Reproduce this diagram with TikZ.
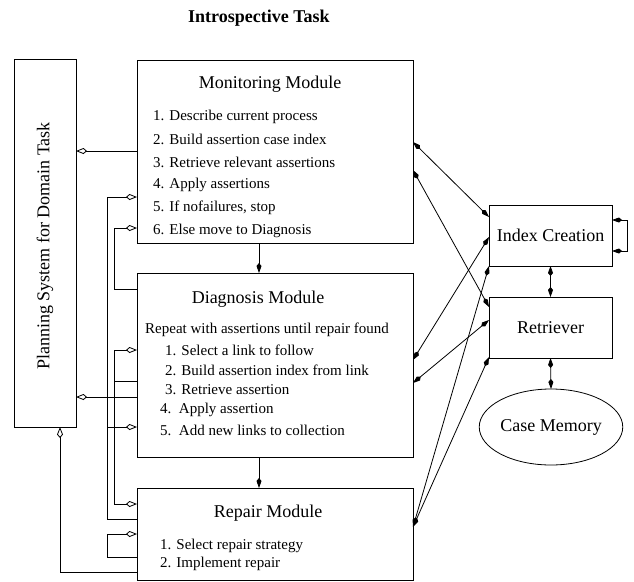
\documentclass[tikz,border=0pt]{standalone}
\usepackage{fontspec}
\setmainfont{Liberation Serif}
\usetikzlibrary{arrows.meta,shapes.geometric,calc}
\begin{document}
\begin{tikzpicture}[x=1pt,y=-1pt,
  box/.style={draw, line width=0.8pt, inner sep=0pt, outer sep=0pt, anchor=north west},
  conn/.style={line width=0.8pt},
  oarr/.style={-{Kite[open,length=11pt,width=6pt,inset=3.5pt]}},
  farr/.style={{Kite[length=10pt,width=5pt,inset=3pt]}-{Kite[length=10pt,width=5pt,inset=3pt]}},
  darr/.style={-{Kite[length=10pt,width=5pt,inset=3pt]}},
  big/.style={font=\fontsize{18}{20}\selectfont},
  item/.style={font=\fontsize{15}{17}\selectfont, anchor=west, inner sep=0pt},
]
\useasboundingbox (0,0) rectangle (634,581);

% title
\node[font=\bfseries\fontsize{18}{20}\selectfont, anchor=base west, inner sep=0pt] (title) at (188,22) {Introspective Task};

% boxes
\node[box, minimum width=62pt, minimum height=368pt] (plan) at (14,59) {};
\node[big, rotate=90] (plantxt) at (45,246) {Planning System for Domain Task};

\node[box, minimum width=276pt, minimum height=183pt] (mon) at (137,60) {};
\node[big] (montitle) at (270,84) {Monitoring Module};
\node[item] (m1) at (153,117) {1. Describe current process};
\node[item] (m2) at (153,139) {2. Build assertion case index};
\node[item] (m3) at (153,162) {3. Retrieve relevant assertions};
\node[item] (m4) at (153,185) {4. Apply assertions};
\node[item] (m5) at (153,208) {5. If nofailures, stop};
\node[item] (m6) at (153,231) {6. Else move to Diagnosis};

\node[box, minimum width=276pt, minimum height=184pt] (diag) at (137,273) {};
\node[big] (diagtitle) at (258,299) {Diagnosis Module};
\node[item] (d0) at (145,330) {Repeat with assertions until repair found};
\node[item] (d1) at (165,350) {1. Select a link to follow};
\node[item] (d2) at (165,370) {2. Build assertion index from link};
\node[item] (d3) at (165,390) {3. Retrieve assertion};
\node[item] (d4) at (160,410) {4.\ \ Apply assertion};
\node[item] (d5) at (160,430) {5.\ \ Add new links to collection};

\node[box, minimum width=276pt, minimum height=92pt] (rep) at (137,488) {};
\node[big] (reptitle) at (268,513) {Repair Module};
\node[item] (r1) at (160,546) {1. Select repair strategy};
\node[item] (r2) at (160,564) {2. Implement repair};

\node[box, big, minimum width=123pt, minimum height=61pt] (idx) at (489,205) {Index Creation};
\node[box, big, minimum width=123pt, minimum height=61pt] (ret) at (489,297) {Retriever};
\node[draw, ellipse, line width=0.8pt, big, minimum width=122pt, minimum height=76pt, inner sep=0pt, outer sep=0pt] (mem) at (551,427) {Case Memory};

% left connectors
\draw[conn,oarr] ($(mon.north west)+(0,91)$) -- ($(plan.north east)+(0,92)$);
\draw[conn,oarr] ($(rep.north west)+(0,31)$) -- ++(-30,0) |- ($(mon.north west)+(0,137)$);
\draw[conn,oarr] ($(diag.north west)+(-30,154)$) -- ($(diag.north west)+(0,154)$);
\draw[conn,oarr] ($(diag.north west)+(0,16)$) -- ++(-23,0) |- ($(mon.north west)+(0,168)$);
\draw[conn,oarr] ($(diag.north west)+(0,108)$) -- ++(-23,0) |- ($(diag.north west)+(0,77)$);
\draw[conn,oarr] ($(diag.north west)+(-23,108)$) |- ($(rep.north west)+(0,16)$);
\draw[conn,oarr] ($(diag.north west)+(0,124)$) -- ($(plan.north east)+(0,338)$);
\draw[conn,oarr] ($(rep.north west)+(0,69)$) -- ++(-30,0) |- ($(rep.north west)+(0,46)$);
\draw[conn,oarr] ($(rep.north west)+(0,84)$) -| ($(plan.south west)+(46,0)$);

% vertical module arrows
\draw[conn,darr] ($(mon.south west)+(122,0)$) -- ($(diag.north west)+(122,0)$);
\draw[conn,darr] ($(diag.south west)+(122,0)$) -- ($(rep.north west)+(122,0)$);

% right connectors
\draw[conn,farr] ($(mon.north east)+(0,82)$) -- ($(idx.north west)+(0,12)$);
\draw[conn,farr] ($(mon.north east)+(0,110)$) -- ($(ret.north west)+(0,10)$);
\draw[conn,farr] ($(diag.north east)+(0,87)$) -- ($(idx.north west)+(0,32)$);
\draw[conn,farr] ($(diag.north east)+(0,110)$) -- ($(ret.north west)+(0,23)$);
\draw[conn,farr] ($(rep.north east)+(0,39)$) -- (idx.south west);
\draw[conn,farr] ($(rep.north east)+(0,39)$) -- ($(ret.south west)+(0,-1)$);

\draw[conn,farr] ($(idx.north east)+(0,15)$) -- ++(15,0) |- ($(idx.north east)+(0,46)$);
\draw[conn,farr] (idx.south) -- (ret.north);
\draw[conn,farr] (ret.south) -- (mem.north);
\end{tikzpicture}
\end{document}
